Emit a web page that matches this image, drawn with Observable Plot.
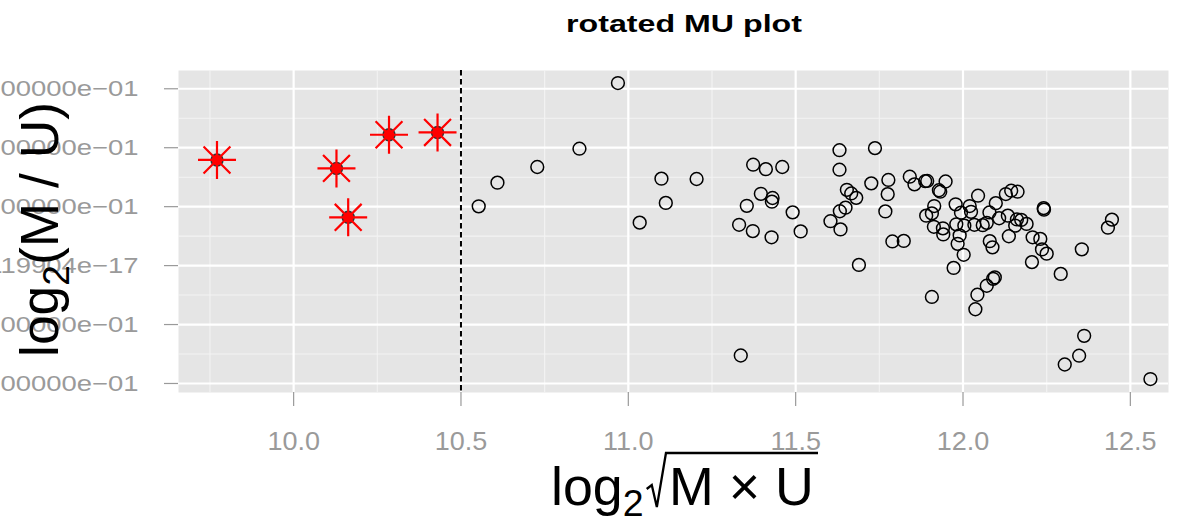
<!DOCTYPE html>
<html><head><meta charset="utf-8">
<script src="https://cdn.jsdelivr.net/npm/d3@7"></script>
<script src="https://cdn.jsdelivr.net/npm/@observablehq/plot@0.6"></script>
<style>body{margin:0;background:#fff;}</style>
</head><body><div id="chart"></div>
<script>
// ---- data ----
const circleX = [10.553,10.609,10.728,10.854,10.969,11.034,11.099,11.112,11.204,11.336,
  11.331,11.354,11.372,11.373,11.411,11.460,11.396,11.431,11.429,11.428,
  11.491,11.515,11.604,11.631,11.631,11.634,11.632,11.649,11.653,11.666,
  11.681,11.689,11.726,11.737,11.768,11.777,11.775,11.789,11.823,11.841,
  11.855,11.887,11.893,11.928,11.932,11.948,11.890,11.907,11.914,11.913,
  11.940,11.941,11.907,11.972,11.978,11.980,11.990,11.984,11.994,12.002,
  12.020,12.024,12.045,12.004,12.034,12.059,12.071,12.079,12.098,12.108,
  12.128,12.144,12.163,12.134,12.161,12.174,12.190,12.156,12.137,12.080,
  12.088,12.208,12.231,12.241,12.242,12.236,12.250,12.206,12.292,12.355,
  12.095,12.090,12.071,12.043,12.037,12.362,12.347,12.304,12.560,12.445,12.433];
const circleY = [0.1005,0.1407,0.1673,0.1983,0.3097,0.0729,0.1475,0.1064,0.1469,-0.1525,
  0.0692,0.1014,0.0585,0.1712,0.1636,0.1673,0.1217,0.1147,0.1085,0.0480,
  0.0903,0.0580,0.0753,0.1958,0.1627,0.0614,0.0922,0.0983,0.1285,0.1224,
  0.1149,0.0012,0.1395,0.1993,0.0919,0.1453,0.1212,0.0410,0.0419,0.1508,
  0.1378,0.1432,0.1436,0.1278,0.1254,0.1427,0.0847,0.0886,0.1010,0.0658,
  0.0632,0.0529,-0.0532,-0.0039,0.1039,0.0700,0.0512,0.0369,0.0898,0.0183,
  0.1010,0.0912,0.1186,0.0678,0.0692,0.0686,0.0725,0.0902,0.1059,0.0803,
  0.1214,0.1271,0.1254,0.0847,0.0783,0.0775,0.0707,0.0678,0.0498,0.0415,
  0.0310,0.0480,0.0453,0.0975,0.0949,0.0275,0.0203,0.0059,-0.0141,0.0276,
  -0.0200,-0.0225,-0.0342,-0.0495,-0.0741,-0.1192,-0.1529,-0.1678,-0.1925,0.0780,0.0644];
const starX = [9.771,10.128,10.163,10.285,10.430];
const starY = [0.1792,0.1649,0.0819,0.2220,0.2259];
const cutoff = [10.5];

const xTicks = [10, 10.5, 11, 11.5, 12, 12.5];
const xTickLabels = ["10.0","10.5","11.0","11.5","12.0","12.5"];
const xMinor = [9.75, 10.25, 10.75, 11.25, 11.75, 12.25];
const yTicks = [0.3, 0.2, 0.1, 0, -0.1, -0.2];
const yTickLabels = ["3.000000e\u221201","2.000000e\u221201","1.000000e\u221201","4.119904e\u221217","\u22121.000000e\u221201","\u22122.000000e\u221201"];
const yMinor = [0.25, 0.15, 0.05, -0.05, -0.15];

const titleText = "rotated MU plot";

// ---- build ----
const circles = circleX.map((x, i) => ({x, y: circleY[i]}));
const stars = starX.map((x, i) => ({x, y: starY[i]}));

const asterisk8 = {
  draw(ctx, size) {
    const r = Math.sqrt(size / Math.PI);
    for (let k = 0; k < 4; k++) {
      const a = k * Math.PI / 4;
      ctx.moveTo(r * Math.cos(a), r * Math.sin(a));
      ctx.lineTo(-r * Math.cos(a), -r * Math.sin(a));
    }
  }
};

const tickColor = "#9a9a9a";
const FONT = "'Liberation Sans', Arial, sans-serif";

const plot = Plot.plot({
  width: 1182,
  height: 521,
  marginLeft: 178,
  marginRight: 14,
  marginTop: 70,
  marginBottom: 129,
  style: {fontFamily: FONT, fontSize: "22px", background: "white"},
  x: {domain: [9.656, 12.614], label: null},
  y: {domain: [-0.2153, 0.331], label: null},
  marks: [
    Plot.frame({fill: "#e5e5e5", stroke: "none"}),
    Plot.gridX(xMinor, {stroke: "#f3f3f3", strokeOpacity: 1, strokeWidth: 1.1}),
    Plot.gridY(yMinor, {stroke: "#f3f3f3", strokeOpacity: 1, strokeWidth: 1.1}),
    Plot.gridX(xTicks, {stroke: "white", strokeOpacity: 1, strokeWidth: 2.2}),
    Plot.gridY(yTicks, {stroke: "white", strokeOpacity: 1, strokeWidth: 2.2}),
    Plot.axisX(xTicks, {
      tickSize: 14, tickPadding: 26, stroke: tickColor, fill: tickColor, strokeWidth: 1.2,
      fontSize: 25, fontFamily: FONT, label: null,
      tickFormat: d => xTickLabels[xTicks.indexOf(d)]
    }),
    Plot.axisY(yTicks, {
      tickSize: 14, tickPadding: 26, stroke: tickColor, fill: tickColor, strokeWidth: 1.2,
      fontSize: 22.5, fontFamily: FONT, label: null,
      tickFormat: d => yTickLabels[yTicks.indexOf(d)]
    }),
    Plot.ruleX(cutoff, {stroke: "black", strokeWidth: 2, strokeDasharray: "5.5,3.5"}),
    Plot.dot(circles, {x: "x", y: "y", r: 6.4, stroke: "black", strokeWidth: 1.5, fill: "none"}),
    Plot.dot(stars, {x: "x", y: "y", r: 6, fill: "red", stroke: "#333", strokeWidth: 1.4}),
    Plot.dot(stars, {x: "x", y: "y", r: 19, symbol: asterisk8, fill: "none", stroke: "red", strokeWidth: 2.2})
  ]
});

document.getElementById("chart").appendChild(plot);

const svg = d3.select(plot);

// widen tick labels a little, like the reference
svg.selectAll('[aria-label="y-axis tick label"] text').each(function() {
  this.setAttribute("transform", (this.getAttribute("transform") || "") + " scale(1.22,1)");
});
svg.selectAll('[aria-label="x-axis tick label"] text').each(function() {
  this.setAttribute("transform", (this.getAttribute("transform") || "") + " scale(1.08,1)");
});

// Title (stretched to the reference width)
{
  const g = svg.append("g");
  const t = g.append("text")
    .attr("x", 0).attr("y", 32)
    .attr("text-anchor", "middle")
    .attr("font-family", FONT)
    .attr("font-weight", "bold")
    .attr("font-size", 24.5)
    .attr("fill", "black")
    .text(titleText);
  const w = t.node().getBBox().width;
  g.attr("transform", `translate(684,0) scale(${236 / w},1)`);
}

// X axis title: log2 sqrt(M x U)
{
  const g = svg.append("g");
  const xt = g.append("text")
    .attr("x", 0).attr("y", 505)
    .attr("text-anchor", "start")
    .attr("font-family", FONT)
    .attr("font-size", 53)
    .attr("fill", "black");
  xt.append("tspan").text("log");
  xt.append("tspan").attr("font-size", 37).attr("dy", 11).text("2");
  xt.append("tspan").attr("dy", -11).attr("dx", 25).text("M \u00D7 U");
  const n = xt.node();
  const subEnd = n.getEndPositionOfChar(3).x;
  const mStart = n.getStartPositionOfChar(4).x;
  const uEnd = n.getEndPositionOfChar(8).x;
  const top = 453, base = 507;
  const p = d3.path();
  p.moveTo(subEnd + 3, 489);
  p.lineTo(subEnd + 8, 485);
  p.lineTo(subEnd + 13, base);
  p.lineTo(mStart - 3, top);
  p.lineTo(uEnd + 4, top);
  g.append("path").attr("d", p.toString())
    .attr("fill", "none").attr("stroke", "black").attr("stroke-width", 2.3)
    .attr("stroke-linejoin", "miter").attr("vector-effect", "non-scaling-stroke");
  const s = (818 - 551) / (uEnd + 4);
  g.attr("transform", `translate(551,0) scale(${s},1)`);
}

// Y axis title: log2(M / U)
{
  const g = svg.append("g");
  const yt = g.append("text")
    .attr("x", 0).attr("y", 0)
    .attr("text-anchor", "middle")
    .attr("font-family", FONT)
    .attr("font-size", 53)
    .attr("fill", "black");
  yt.append("tspan").text("log");
  yt.append("tspan").attr("font-size", 37).attr("dy", 11).text("2");
  yt.append("tspan").attr("dy", -11).text("(M / U)");
  const bb = yt.node().getBBox();
  const s = 255 / bb.width;
  const cx = bb.x + bb.width / 2;
  g.attr("transform", `translate(58,229.5) rotate(-90) scale(${s},1) translate(${-cx},0)`);
}
</script>
</body></html>
